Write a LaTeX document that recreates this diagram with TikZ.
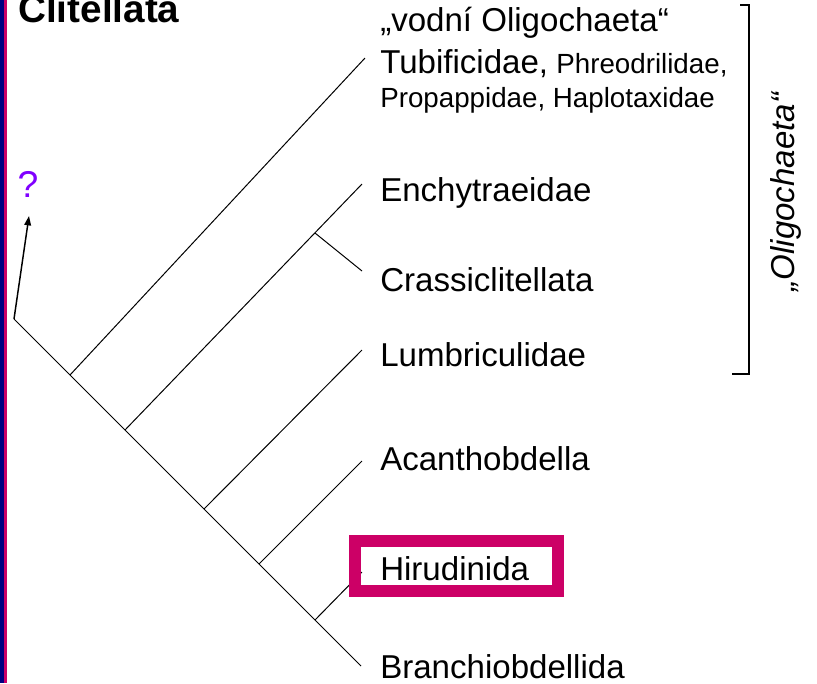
\documentclass[tikz,border=0pt]{standalone}
\usepackage{fontspec}
\setmainfont{Liberation Sans}
\usetikzlibrary{arrows.meta}
\definecolor{mag}{RGB}{204,0,102}
\definecolor{navyb}{RGB}{0,0,128}
\definecolor{qviolet}{RGB}{128,0,255}
\begin{document}
\begin{tikzpicture}[x=0.75pt,y=-0.75pt,
  tree/.style={line width=0.75pt,black},
  biglab/.style={anchor=base west,inner sep=0pt,font=\fontsize{24.8pt}{29pt}\selectfont},
  smalllab/.style={anchor=base west,inner sep=0pt,font=\fontsize{20.8pt}{25pt}\selectfont},
  bracketline/.style={line width=0.9pt,black},
  hibox/.style={draw=mag,line width=9pt}]
\useasboundingbox (0,0) rectangle (817,683);
\clip (0,0) rectangle (817,683);
% left stripes
\fill[navyb] (0,0) rectangle (4,683);
\fill[mag] (4,0) rectangle (7,683);
% title
\node[anchor=base west,inner sep=0pt,font=\fontsize{29pt}{34pt}\selectfont\bfseries] (title) at (18,22) {Clitellata};
% question mark
\node[anchor=base,inner sep=0pt,text=qviolet,font=\fontsize{28pt}{32pt}\selectfont] (q) at (28,197) {?};
% tree coordinates
\coordinate (root) at (14,319);
\coordinate (n1) at (70,375);
\coordinate (n2) at (125,430);
\coordinate (n3) at (204,509);
\coordinate (n4) at (259,564);
\coordinate (n5) at (315,620);
\coordinate (sub) at (315,233);
\coordinate (t1) at (365,58);
\coordinate (t2) at (362,184);
\coordinate (t3) at (362,271);
\coordinate (t4) at (362,350);
\coordinate (t5) at (362,461);
\coordinate (t6) at (362,572);
\coordinate (t7) at (361,666);
\coordinate (qtip) at (29,216);
% tree
\draw[tree] (root) -- (t7);
\draw[tree] (n1) -- (t1);
\draw[tree] (n2) -- (t2);
\draw[tree] (sub) -- (t3);
\draw[tree] (n3) -- (t4);
\draw[tree] (n4) -- (t5);
\draw[tree] (n5) -- (t6);
\draw[line width=1.1pt,-{Triangle[length=7pt,width=5pt]}] (root) -- (qtip);
% labels
\node[biglab] (l1) at (380,31) {„vodní Oligochaeta“};
\node[biglab] (l2) at (380,73) {Tubificidae,};
\node[smalllab] (l2b) at (l2.base east) {\ Phreodrilidae,};
\node[smalllab] (l3) at (380,107) {Propappidae, Haplotaxidae};
\node[biglab] (l4) at (380,201) {Enchytraeidae};
\node[biglab] (l5) at (380,291) {Crassiclitellata};
\node[biglab] (l6) at (380,366) {Lumbriculidae};
\node[biglab] (l7) at (380,470) {Acanthobdella};
\node[biglab] (l8) at (380,580) {Hirudinida};
\node[biglab] (l9) at (380,678) {Branchiobdellida};
% box around Hirudinida
\draw[hibox] (354.5,541) rectangle (557.5,590.5);
% bracket
\coordinate (b1) at (740,5);
\coordinate (b2) at (749,5);
\coordinate (b3) at (749,374);
\coordinate (b4) at (732,374);
\draw[bracketline] (b1) -- (b2) -- (b3) -- (b4);
\node[rotate=90,inner sep=0pt,font=\fontsize{24.8pt}{29pt}\selectfont\itshape] (olig) at (786,192) {„Oligochaeta“};
\end{tikzpicture}
\end{document}
